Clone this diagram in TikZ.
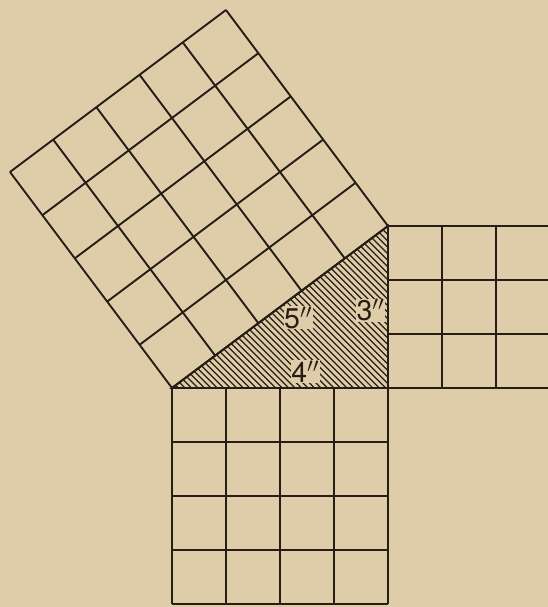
\documentclass[tikz,border=0pt]{standalone}
\usepackage{fontspec}
\setsansfont{TeX Gyre Heros}
\usetikzlibrary{calc}
\definecolor{paper}{RGB}{222,205,168}
\definecolor{ink}{RGB}{38,30,22}

\begin{document}
\begin{tikzpicture}[
    grid line/.style={ink, line width=1pt},
    hatch/.style={ink, line width=0.65pt},
    side label/.style={fill=paper, inner sep=0.3pt, text=ink, font=\sffamily\fontsize{15}{15}\selectfont}
]

    % Fond
    \fill[paper] (-7.185,-4.056) rectangle (2.963,7.185);
    \useasboundingbox (-7.185,-4.056) rectangle (2.963,7.185);

    % Sommets
    \coordinate (A) at (-4,0);
    \coordinate (B) at (0,0);
    \coordinate (C) at (0,3);

    % Hachures du triangle
    \begin{scope}
        \clip (A) -- (B) -- (C) -- cycle;
        \foreach \c in {-4.0,-3.88,...,3.05}
            \draw[hatch] (\c+1,-1) -- (\c-4,4);
    \end{scope}

    % Carre sur 4
    \draw[grid line] (-4,-4) grid (0,0);

    % Carre sur 3
    \draw[grid line] (0,0) grid (3,3);

    % Carre sur 5
    \begin{scope}[shift={(A)}, rotate=36.8699]
        \foreach \i in {0,...,5} {
            \draw[grid line] (\i,0) -- (\i,5);
            \draw[grid line] (0,\i) -- (5,\i);
        }
    \end{scope}

    % Triangle
    \draw[grid line] (A) -- (B) -- (C) -- cycle;

    % Cotes
    \node[side label] (five) at (-1.66,1.30) {5$''$};
    \node[side label] (three) at (-0.32,1.44) {3$''$};
    \node[side label] (four) at (-1.53,0.30) {4$''$};

\end{tikzpicture}
\end{document}
